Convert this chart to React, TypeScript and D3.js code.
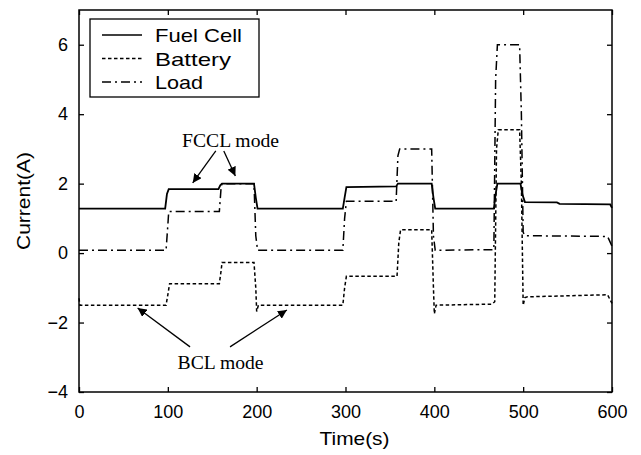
import { useEffect, useRef } from "react";
import * as d3 from "d3";

type Pt = [number, number];

// time (s), current (A) — step profiles
const fuelCell: Pt[] = [
  [0, 1.28], [97, 1.28], [99, 1.7], [101, 1.84], [157, 1.84], [159, 1.95], [161, 2.0],
  [197, 2.0], [199, 1.6], [201, 1.28], [297, 1.28], [299, 1.6], [301, 1.9], [357, 1.92],
  [359, 2.0], [397, 2.0], [399, 1.6], [401, 1.28], [467, 1.28], [469, 1.7], [471, 2.0],
  [497, 2.0], [499, 1.7], [502, 1.47], [538, 1.46], [541, 1.42], [598, 1.4], [600, 1.3],
];

const battery: Pt[] = [
  [0, -1.3], [1, -1.5], [98, -1.5], [100, -1.2], [102, -0.88], [158, -0.88], [160, -0.5],
  [161, -0.27], [197, -0.27], [199, -1.0], [200, -1.68], [202, -1.5], [297, -1.5],
  [299, -1.0], [301, -0.67], [358, -0.67], [360, 0.3], [362, 0.67], [397, 0.67], [399, -1.0],
  [400, -1.75], [402, -1.5], [465, -1.47], [468, -1.4], [470, 3.0], [472, 3.55], [496, 3.55],
  [498, 2.0], [500, -1.5], [502, -1.28], [505, -1.26], [595, -1.2], [600, -1.45],
];

const load: Pt[] = [
  [0, 0.08], [98, 0.08], [100, 0.8], [101, 1.2], [158, 1.2], [160, 1.9], [161, 2.0],
  [197, 2.0], [199, 0.5], [201, 0.08], [297, 0.08], [299, 1.0], [301, 1.49], [357, 1.49],
  [359, 2.8], [361, 3.0], [397, 3.0], [399, 0.5], [401, 0.08], [467, 0.1], [469, 5.0],
  [471, 6.0], [496, 6.0], [498, 4.0], [500, 0.6], [502, 0.5], [595, 0.48], [600, 0.2],
];

const xTicks = [0, 100, 200, 300, 400, 500, 600];
const yTicks = [-4, -2, 0, 2, 4, 6];

const seriesNames = ["Fuel Cell", "Battery", "Load"];
const seriesDash = ["", "3.5,2.5", "9,4,2,4"];
const seriesWidth = [1.8, 1.5, 1.5];

export default function App() {
  const svgRef = useRef<SVGSVGElement | null>(null);

  useEffect(() => {
    if (!svgRef.current) return;
    const W = 641;
    const H = 455;
    const margin = { top: 10, right: 29, bottom: 63, left: 79 };
    const width = W - margin.left - margin.right;
    const height = H - margin.top - margin.bottom;
    const font = "'Liberation Sans', Arial, sans-serif";
    const serif = "'Liberation Serif', 'Times New Roman', serif";

    d3.select(svgRef.current).selectAll("*").remove();
    const root = d3.select(svgRef.current).attr("width", W).attr("height", H);
    root.append("rect").attr("width", W).attr("height", H).attr("fill", "#fff");

    const svg = root.append("g").attr("transform", `translate(${margin.left},${margin.top})`);

    const x = d3.scaleLinear().domain([0, 600]).range([0, width]);
    const y = d3.scaleLinear().domain([-4, 7]).range([height, 0]);

    // series
    const line = d3
      .line<Pt>()
      .x((d) => x(d[0]))
      .y((d) => y(d[1]));
    [fuelCell, battery, load].forEach((s, i) => {
      svg
        .append("path")
        .datum(s)
        .attr("fill", "none")
        .attr("stroke", "#000")
        .attr("stroke-width", seriesWidth[i])
        .attr("stroke-dasharray", seriesDash[i] || null)
        .attr("d", line);
    });

    // axes (inward ticks on all sides)
    const styleAxis = (g: d3.Selection<SVGGElement, unknown, null, undefined>) => {
      g.select(".domain").remove();
      g.selectAll("line").attr("stroke", "#000").attr("stroke-width", 1.3);
      g.selectAll("text").attr("font-family", font).attr("font-size", 18).attr("fill", "#000");
    };
    svg
      .append("g")
      .attr("transform", `translate(0,${height})`)
      .call(d3.axisBottom(x).tickValues(xTicks).tickSize(-5).tickPadding(13))
      .call(styleAxis);
    svg
      .append("g")
      .call(d3.axisTop(x).tickValues(xTicks).tickSize(-5).tickFormat(() => ""))
      .call(styleAxis);
    svg
      .append("g")
      .call(d3.axisLeft(y).tickValues(yTicks).tickSize(-5).tickPadding(11))
      .call(styleAxis);
    svg
      .append("g")
      .attr("transform", `translate(${width},0)`)
      .call(d3.axisRight(y).tickValues(yTicks).tickSize(-5).tickFormat(() => ""))
      .call(styleAxis);

    svg
      .append("rect")
      .attr("width", width)
      .attr("height", height)
      .attr("fill", "none")
      .attr("stroke", "#000")
      .attr("stroke-width", 1.5);

    // axis titles
    svg
      .append("text")
      .text("Time(s)")
      .attr("x", width / 2 + 9)
      .attr("y", height + 53)
      .attr("text-anchor", "middle")
      .attr("font-family", font)
      .attr("font-size", 19)
      .attr("textLength", 70)
      .attr("lengthAdjust", "spacingAndGlyphs");
    svg
      .append("text")
      .text("Current(A)")
      .attr("transform", `translate(-49,${y(1.5)}) rotate(-90)`)
      .attr("text-anchor", "middle")
      .attr("font-family", font)
      .attr("font-size", 19)
      .attr("textLength", 98)
      .attr("lengthAdjust", "spacingAndGlyphs");

    // legend
    const lg = svg.append("g").attr("transform", "translate(11,9)");
    lg.append("rect")
      .attr("width", 169)
      .attr("height", 78)
      .attr("fill", "#fff")
      .attr("stroke", "#000")
      .attr("stroke-width", 1.3);
    const legendWidths = [87, 76, 48];
    seriesNames.forEach((name, i) => {
      const cy = 16 + i * 23.5;
      lg.append("line")
        .attr("x1", 12)
        .attr("x2", 52)
        .attr("y1", cy)
        .attr("y2", cy)
        .attr("stroke", "#000")
        .attr("stroke-width", 1.5)
        .attr("stroke-dasharray", seriesDash[i] || null);
      lg.append("text")
        .text(name)
        .attr("x", 65)
        .attr("y", cy + 7)
        .attr("font-family", font)
        .attr("font-size", 19)
        .attr("textLength", legendWidths[i])
        .attr("lengthAdjust", "spacingAndGlyphs");
    });

    // annotations (data coordinates)
    const defs = root.append("defs");
    defs
      .append("marker")
      .attr("id", "arrow")
      .attr("viewBox", "0 0 10 10")
      .attr("refX", 10)
      .attr("refY", 5)
      .attr("markerWidth", 9)
      .attr("markerHeight", 9)
      .attr("markerUnits", "userSpaceOnUse")
      .attr("orient", "auto")
      .append("path")
      .attr("d", "M0,0L10,5L0,10z")
      .attr("fill", "#000");

    const notes = [
      { label: "FCCL mode", at: [116, 3.06], width: 97, arrows: [[[154, 2.94], [128, 2.02]], [[163, 2.94], [176, 2.22]]] },
      { label: "BCL mode", at: [111, -3.34], width: 86, arrows: [[[125, -2.7], [66, -1.58]], [[170, -2.7], [234, -1.64]]] },
    ];
    notes.forEach((n) => {
      svg
        .append("text")
        .text(n.label)
        .attr("x", x(n.at[0]))
        .attr("y", y(n.at[1]))
        .attr("font-family", serif)
        .attr("font-size", 19)
        .attr("textLength", n.width)
        .attr("lengthAdjust", "spacingAndGlyphs");
      n.arrows.forEach(([a, b]) => {
        svg
          .append("line")
          .attr("x1", x(a[0]))
          .attr("y1", y(a[1]))
          .attr("x2", x(b[0]))
          .attr("y2", y(b[1]))
          .attr("stroke", "#000")
          .attr("stroke-width", 1.3)
          .attr("marker-end", "url(#arrow)");
      });
    });
  }, []);

  return (
    <div style={{ position: "absolute", left: 0, top: 0 }}>
      <svg ref={svgRef} style={{ display: "block" }} />
    </div>
  );
}
